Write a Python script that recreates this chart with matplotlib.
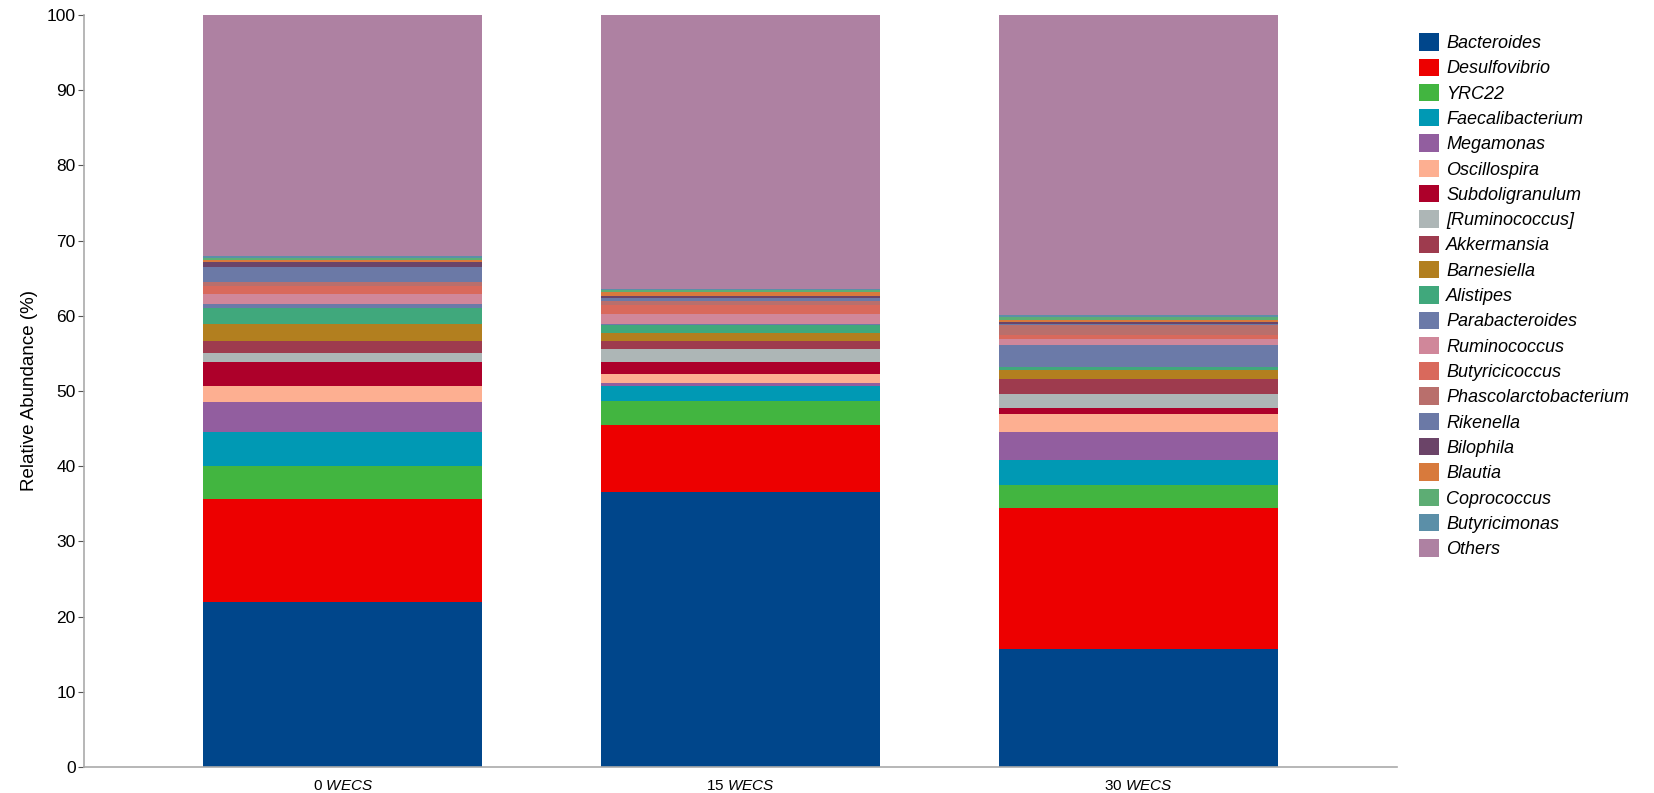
import matplotlib
matplotlib.use("Agg")
import matplotlib.pyplot as plt
import numpy as np

plt.rcParams['font.family'] = ['Liberation Sans', 'DejaVu Sans']
plt.rcParams['mathtext.fontset'] = 'custom'
plt.rcParams['mathtext.rm'] = 'Liberation Sans'
plt.rcParams['mathtext.it'] = 'Liberation Sans:italic'

groups = ['0', '15', '30']

taxa = ['Bacteroides', 'Desulfovibrio', 'YRC22', 'Faecalibacterium', 'Megamonas',
        'Oscillospira', 'Subdoligranulum', '[Ruminococcus]', 'Akkermansia', 'Barnesiella',
        'Alistipes', 'Parabacteroides', 'Ruminococcus', 'Butyricicoccus',
        'Phascolarctobacterium', 'Rikenella', 'Bilophila', 'Blautia', 'Coprococcus',
        'Butyricimonas', 'Others']

# relative abundance (%) per group
wecs_0 = [22.0, 13.6, 4.4, 4.6, 4.0, 2.1, 3.1, 1.3, 1.6, 2.2,
          2.2, 0.5, 1.25, 1.15, 0.5, 1.95, 0.75, 0.25, 0.25, 0.25, 32.05]
wecs_15 = [36.6, 8.9, 3.2, 1.9, 0.45, 1.25, 1.55, 1.8, 1.05, 0.95,
           1.1, 0.2, 1.25, 1.3, 0.5, 0.35, 0.3, 0.45, 0.3, 0.2, 36.5]
wecs_30 = [15.7, 18.8, 3.0, 3.3, 3.8, 2.4, 0.7, 1.9, 2.0, 1.2,
           0.35, 2.9, 0.85, 0.55, 1.3, 0.2, 0.25, 0.3, 0.35, 0.25, 39.9]

colors = ['#00468B', '#ED0000', '#42B540', '#0099B4', '#925E9F',
          '#FDAF91', '#AD002A', '#ADB6B6', '#9E3B4E', '#B27F1F',
          '#40A87C', '#6B7AA8', '#D0879A', '#D9695C', '#B96F6C',
          '#6B79A6', '#6B4468', '#D87A3C', '#5DAD74', '#5B8FA8', '#AE81A2']

vals = np.array([wecs_0, wecs_15, wecs_30]).T
x = np.arange(len(groups))

fig = plt.figure(figsize=(16.54, 7.93), dpi=100)
ax = fig.add_axes([0.0508, 0.0328, 0.794, 0.9483])

bottom = np.zeros(len(groups))
handles = []
for i, name in enumerate(taxa):
    b = ax.bar(x, vals[i], 0.70, bottom=bottom, color=colors[i], label=name,
               linewidth=0)
    handles.append(b)
    bottom += vals[i]

ax.set_xlim(-0.65, 2.65)
ax.set_ylim(0, 100)
ax.set_yticks(np.arange(0, 101, 10))
ax.set_xticks(x)
ax.set_xticklabels([g + r' $\mathit{WECS}$' for g in groups], fontsize=11)
ax.tick_params(axis='x', length=0, pad=9)
ax.tick_params(axis='y', labelsize=12.5, length=4, color='#555555', pad=2)
ax.set_ylabel('Relative Abundance (%)', fontsize=13.5, labelpad=6)

for s in ['top', 'right']:
    ax.spines[s].set_visible(False)
for s in ['left', 'bottom']:
    ax.spines[s].set_color('#aaaaaa')
    ax.spines[s].set_linewidth(1.2)

leg = fig.legend(handles=handles, labels=taxa, loc='upper left',
                 bbox_to_anchor=(1412 / 1654, 1 - 26 / 793), frameon=False,
                 prop={'style': 'italic', 'size': 13}, handlelength=1.1,
                 handleheight=1.1, handletextpad=0.4, labelspacing=0.36,
                 borderaxespad=0)

fig.savefig('out.png', dpi=100)
